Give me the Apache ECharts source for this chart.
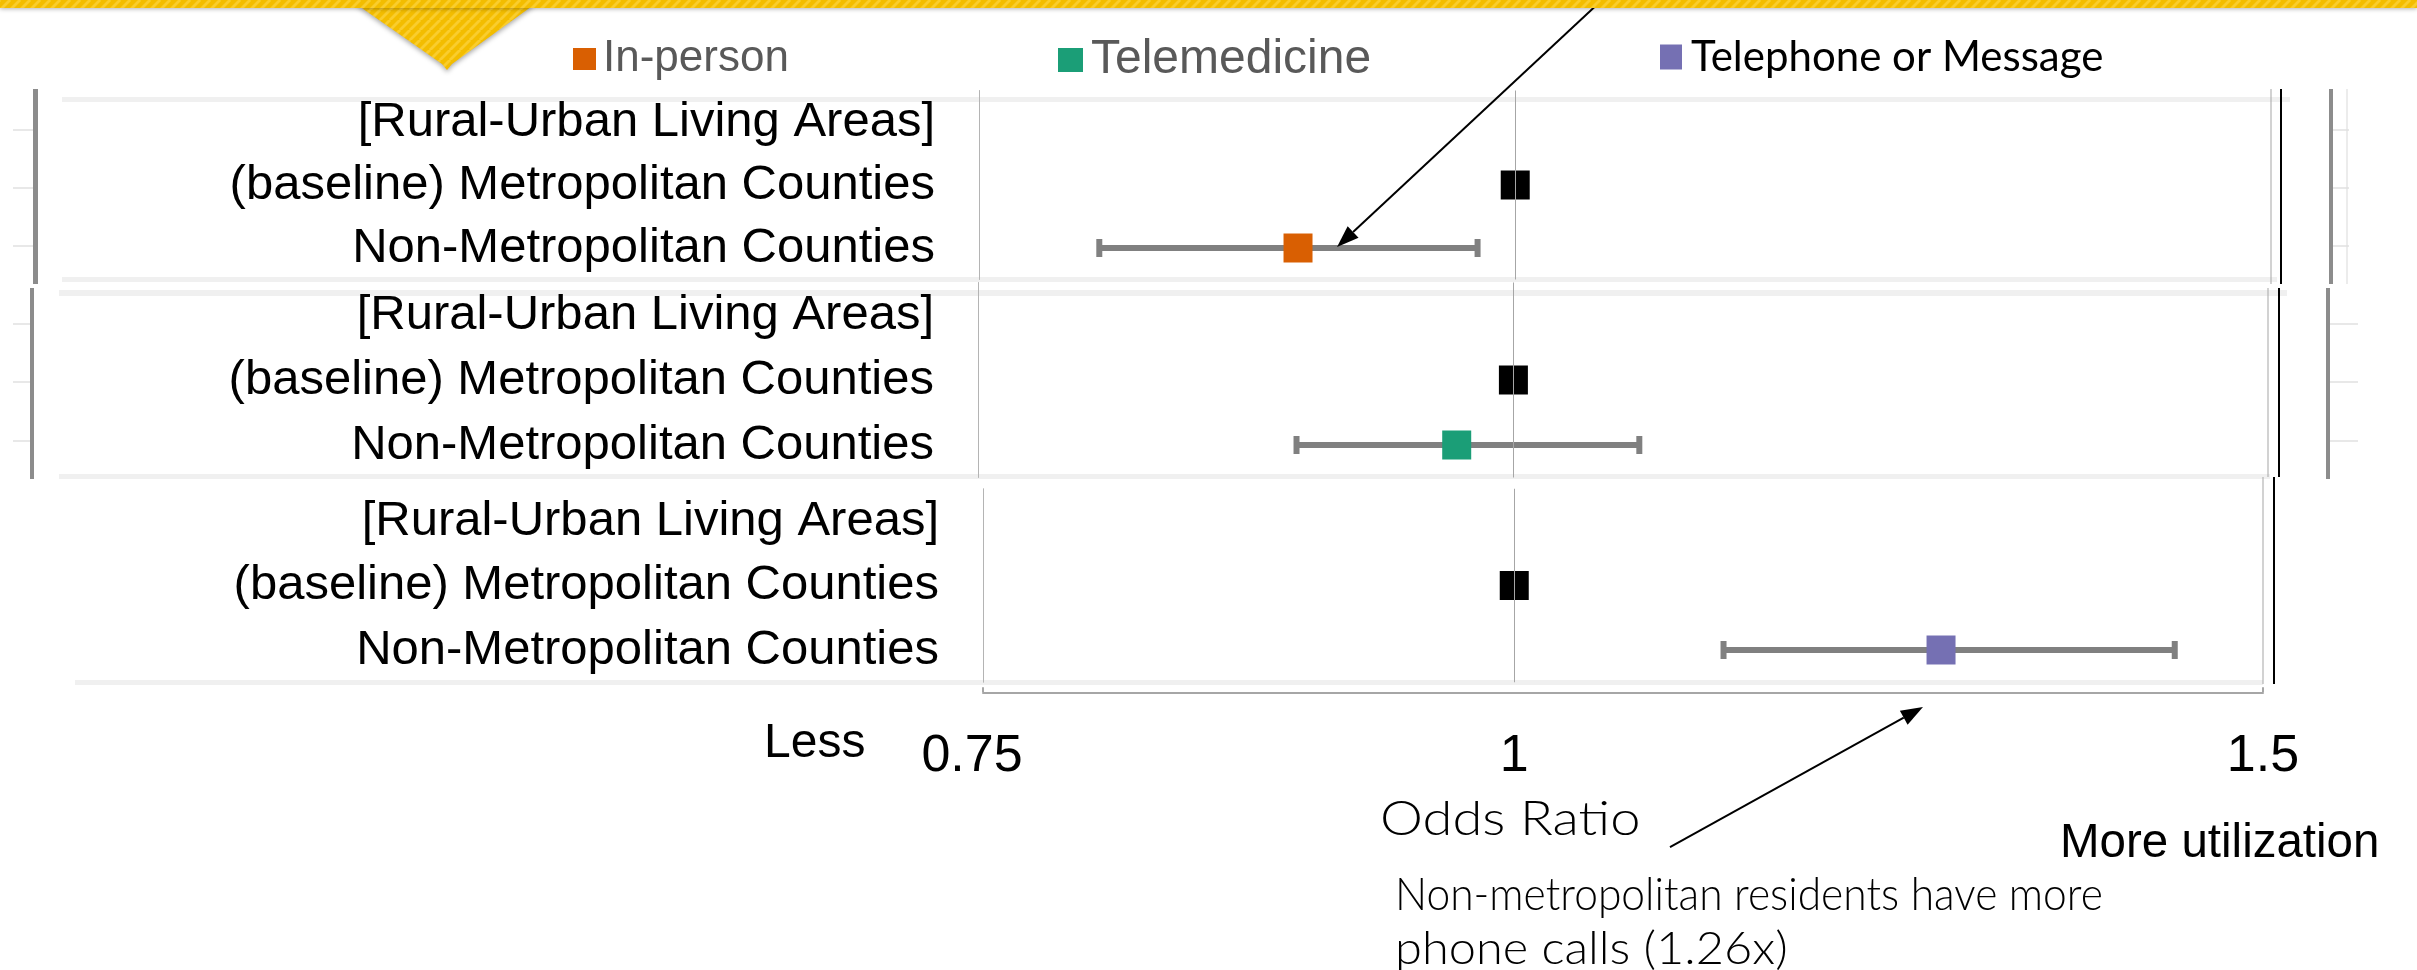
<!DOCTYPE html>
<html>
<head>
<meta charset="utf-8">
<script src="https://cdn.jsdelivr.net/npm/echarts@6/dist/echarts.min.js"></script>
<style>
  html, body { margin: 0; padding: 0; background: #ffffff; }
  #chart { width: 2417px; height: 970px; }
</style>
</head>
<body>
<div id="chart"></div>
<script>
// ---- data ----
const categories = ['[Rural-Urban Living Areas]', '(baseline) Metropolitan Counties', 'Non-Metropolitan Counties'];
const modalities = ['In-person', 'Telemedicine', 'Telephone or Message'];
const baselineOR = [1, 1, 1];
const nonMetroOR = [0.89, 0.97, 1.26];
const nonMetroLow = [0.80, 0.89, 1.12];
const nonMetroHigh = [0.98, 1.07, 1.43];
const axisTicks = [0.75, 1, 1.5];
const axisTickLabels = ['0.75', '1', '1.5'];

// ---- styling ----
const modalityColors = ['#d95f02', '#1b9e77', '#7570b3'];
const ARIAL = '"Liberation Sans", Arial, sans-serif';
const GOTHIC = 'Lato, "Open Sans", sans-serif';

// one forest-plot panel per care modality
const panels = [
  { left: 979, width: 1292, top: 90.5, height: 189 },
  { left: 978, width: 1290, top: 282.5, height: 195 },
  { left: 983, width: 1280, top: 488.75, height: 193.5 }
];

const chart = echarts.init(document.getElementById('chart'));

function ciRender(params, api) {
  const yi = api.value(2);
  const a = api.coord([api.value(0), yi]);
  const b = api.coord([api.value(1), yi]);
  const c = '#808080';
  return {
    type: 'group',
    children: [
      { type: 'line', shape: { x1: a[0], y1: a[1], x2: b[0], y2: b[1] }, style: { stroke: c, lineWidth: 6 } },
      { type: 'rect', shape: { x: a[0] - 3, y: a[1] - 9, width: 6, height: 18 }, style: { fill: c } },
      { type: 'rect', shape: { x: b[0] - 3, y: b[1] - 9, width: 6, height: 18 }, style: { fill: c } }
    ]
  };
}

const grids = panels.map(p => ({ left: p.left, top: p.top, width: p.width, height: p.height, containLabel: false }));

const xAxes = panels.map((p, i) => {
  const last = i === panels.length - 1;
  return {
    type: 'log', gridIndex: i, min: 0.75, max: 1.5,
    show: true,
    offset: last ? 10 : 0,
    axisLine: { show: last, onZero: false, lineStyle: { color: '#a6a6a6', width: 2 } },
    axisTick: { show: last, inside: true, length: 5, customValues: [0.75, 1.5], lineStyle: { color: '#a6a6a6', width: 2 } },
    minorTick: { show: false },
    splitLine: { show: false },
    minorSplitLine: { show: false },
    axisLabel: {
      show: last,
      customValues: axisTicks,
      margin: 38,
      fontSize: 52,
      fontFamily: ARIAL,
      color: '#000000',
      formatter: v => {
        let best = 0;
        axisTicks.forEach((t, k) => { if (Math.abs(t - v) < Math.abs(axisTicks[best] - v)) best = k; });
        return best === 0 ? '{lead|' + axisTickLabels[best] + '}' : axisTickLabels[best];
      },
      rich: { lead: { fontSize: 52, fontFamily: ARIAL, color: '#000000', padding: [0, 22, 0, 0] } }
    }
  };
});

const yAxes = panels.map((p, i) => ({
  type: 'category', gridIndex: i, data: categories, inverse: true,
  axisLine: { show: true, lineStyle: { color: '#b4b4b4', width: 1 } },
  axisTick: { show: false },
  splitLine: { show: false },
  axisLabel: { interval: 0, hideOverlap: false, margin: 44, fontSize: 49, fontFamily: ARIAL, color: '#000000' }
}));

const series = [];
modalities.forEach((name, i) => {
  // reference line at odds ratio 1
  series.push({
    type: 'line', name: 'ref-' + i, xAxisIndex: i, yAxisIndex: i, data: [], z: 1,
    markLine: {
      silent: true, symbol: 'none', label: { show: false }, animation: false,
      lineStyle: { color: '#a6a6a6', width: 1, type: 'solid' },
      data: [{ xAxis: 1 }]
    }
  });
  // 95% confidence interval of the non-metropolitan estimate
  series.push({
    type: 'custom', name: name + ' CI', xAxisIndex: i, yAxisIndex: i, z: 2,
    renderItem: ciRender,
    encode: { x: [0, 1], y: 2 },
    data: [[nonMetroLow[i], nonMetroHigh[i], categories[2]]]
  });
  // point estimates: baseline (black) and non-metropolitan (modality colour)
  series.push({
    type: 'scatter', name: name, xAxisIndex: i, yAxisIndex: i, z: 3,
    symbol: 'rect', symbolSize: 29,
    itemStyle: { color: modalityColors[i], opacity: 1 },
    emphasis: { disabled: true },
    data: [
      { value: [baselineOR[i], categories[1]], itemStyle: { color: '#000000', opacity: 1 } },
      { value: [nonMetroOR[i], categories[2]] }
    ]
  });
});

const legendSpecs = [
  { left: 573, top: 37, w: 23, h: 22, fontSize: 44, color: '#595959', family: ARIAL, pad: 2 },
  { left: 1058, top: 36, w: 25, h: 24, fontSize: 48, color: '#595959', family: ARIAL, pad: 3 },
  { left: 1660, top: 36, w: 22, h: 25, fontSize: 42, color: '#000000', family: GOTHIC, pad: 4 }
];
const legends = modalities.map((name, i) => {
  const s = legendSpecs[i];
  return {
    data: [name], left: s.left, top: s.top, padding: 0, icon: 'rect',
    itemWidth: s.w, itemHeight: s.h, selectedMode: false,
    itemStyle: { opacity: 1 },
    textStyle: { fontSize: s.fontSize, color: s.color, fontFamily: s.family, padding: [0, 0, 0, s.pad] }
  };
});

// ---- decorations ----
function stripePattern() {
  const c = document.createElement('canvas');
  c.width = 10; c.height = 10;
  const g = c.getContext('2d');
  g.fillStyle = '#f3bd00';
  g.fillRect(0, 0, 10, 10);
  g.strokeStyle = '#f9cd2e';
  g.lineWidth = 2.5;
  for (let k = -10; k <= 20; k += 10) {
    g.beginPath(); g.moveTo(k - 10, 10); g.lineTo(k, 0); g.stroke();
    g.beginPath(); g.moveTo(k, 10); g.lineTo(k + 10, 0); g.stroke();
  }
  return c;
}
const stripes = { image: stripePattern(), repeat: 'repeat' };

function hline(x1, x2, y, w, color) {
  return { type: 'rect', shape: { x: x1, y: y - w / 2, width: x2 - x1, height: w }, style: { fill: color }, silent: true };
}
function vline(x, y1, y2, w, color) {
  return { type: 'rect', shape: { x: x - w / 2, y: y1, width: w, height: y2 - y1 }, style: { fill: color }, silent: true };
}
function arrow(x1, y1, x2, y2) {
  const ang = Math.atan2(y2 - y1, x2 - x1);
  const L = 22, W = 8;
  const bx = x2 - L * Math.cos(ang), by = y2 - L * Math.sin(ang);
  const nx = -Math.sin(ang), ny = Math.cos(ang);
  return [
    { type: 'line', shape: { x1: x1, y1: y1, x2: bx, y2: by }, style: { stroke: '#000', lineWidth: 2 }, silent: true, z: 20 },
    { type: 'polygon', shape: { points: [[x2, y2], [bx + nx * W, by + ny * W], [bx - nx * W, by - ny * W]] }, style: { fill: '#000' }, silent: true, z: 20 }
  ];
}
function label(text, x, y, size, family, weight, sx) {
  return {
    type: 'text', x: x, y: y, silent: true, z: 20, scaleX: sx || 1,
    style: { text: text, fontSize: size, fontFamily: family, fontWeight: weight || 'normal', fill: '#000000',
             align: 'left', verticalAlign: 'middle', textAlign: 'left', textVerticalAlign: 'middle' }
  };
}

const borderGray = '#f0f0f0';
const graphics = [
  // header band with pointer
  { type: 'polygon', shape: { points: [[356, 4], [535, 4], [452, 64], [447, 70], [442, 64]] },
    style: { fill: stripes, shadowBlur: 5, shadowColor: 'rgba(0,0,0,0.35)', shadowOffsetY: 2 }, z: 30, silent: true },
  { type: 'rect', shape: { x: 0, y: 0, width: 2417, height: 8 },
    style: { fill: stripes, shadowBlur: 4, shadowColor: 'rgba(0,0,0,0.3)', shadowOffsetY: 1 }, z: 31, silent: true },

  // panel frames
  hline(62, 2290, 99.5, 5, borderGray), hline(62, 2277, 279.5, 5, borderGray),
  hline(59, 2287, 293, 6, borderGray), hline(59, 2270, 476.5, 5, borderGray),
  hline(75, 2263, 682.5, 5, borderGray),

  vline(35.5, 89, 284, 5, '#8c8c8c'), vline(32, 288, 479, 4, '#8c8c8c'),
  vline(2331, 89, 284, 4, '#8c8c8c'), vline(2328, 288, 479, 4, '#8c8c8c'),
  vline(2347, 89, 284, 1.5, '#e6e6e6'),

  hline(13, 33, 130, 1.5, '#e0e0e0'), hline(13, 33, 188, 1.5, '#e0e0e0'), hline(13, 33, 246, 1.5, '#e0e0e0'),
  hline(13, 30, 324, 1.5, '#e0e0e0'), hline(13, 30, 382, 1.5, '#e0e0e0'), hline(13, 30, 441, 1.5, '#e0e0e0'),
  hline(2333, 2349, 130, 1.5, '#e0e0e0'), hline(2333, 2349, 188, 1.5, '#e0e0e0'), hline(2333, 2349, 246, 1.5, '#e0e0e0'),
  hline(2330, 2358, 324, 1.5, '#e0e0e0'), hline(2330, 2358, 382, 1.5, '#e0e0e0'), hline(2330, 2358, 441, 1.5, '#e0e0e0'),

  vline(2271, 89, 284, 1, '#a6a6a6'), vline(2281, 89, 284, 2, '#000000'),
  vline(2268, 288, 477, 1, '#a6a6a6'), vline(2279, 288, 477, 2, '#000000'),
  vline(2263, 477, 684, 1, '#a6a6a6'), vline(2274, 477, 684, 2, '#000000'),

  // annotations
  ...arrow(1602, 0, 1337, 247),
  ...arrow(1670, 847, 1923, 707),
  label('Less', 764, 744, 48, ARIAL),
  label('More utilization', 2060, 844, 47.5, ARIAL),
  label('Odds Ratio', 1380, 820, 48, GOTHIC, 300, 1.13),
  label('Non-metropolitan residents have more', 1395, 895, 46, GOTHIC, 300, 0.925),
  label('phone calls (' + nonMetroOR[2] + 'x)', 1395, 949, 46, GOTHIC, 300, 1.06)
];

chart.setOption({
  animation: false,
  backgroundColor: '#ffffff',
  legend: legends,
  grid: grids,
  xAxis: xAxes,
  yAxis: yAxes,
  series: series,
  graphic: { elements: graphics }
});
</script>
</body>
</html>
